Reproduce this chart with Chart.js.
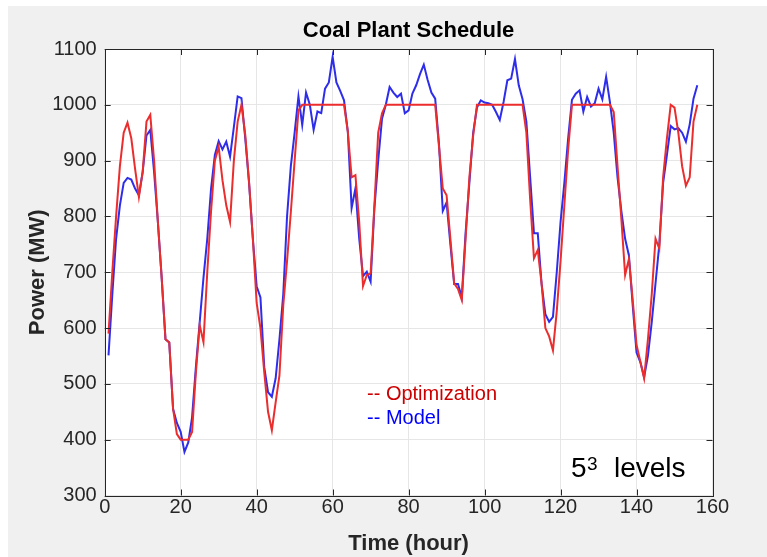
<!DOCTYPE html>
<html lang="en">
<head>
  <meta charset="UTF-8" />
  <title>Coal Plant Schedule</title>
  <script src="https://cdn.jsdelivr.net/npm/chart.js"></script>
  <style>
    body {
      margin: 0;
      background: #ffffff;
    }
    canvas {
      display: block;
    }
  </style>
</head>
<body>
  <canvas id="scheduleChart" width="767" height="557"></canvas>

  <script>
    // hourly series (hour 1 .. 156)
    const optimization = [
      590, 700, 800, 890, 950, 968, 940, 885, 835, 880,
      970, 982, 900, 790, 690, 580, 574, 455, 410, 400,
      400, 400, 414, 520, 605, 575, 700, 810, 900, 925,
      865, 820, 790, 900, 970, 1000, 946, 862, 760, 645,
      600, 521, 450, 417, 467, 515, 640, 720, 808, 900,
      990, 1000, 1000, 1000, 1000, 1000, 1000, 1000, 1000, 1000,
      1000, 1000, 1000, 952, 870, 874, 790, 675, 695, 698,
      820, 950, 985, 1000, 1000, 1000, 1000, 1000, 1000, 1000,
      1000, 1000, 1000, 1000, 1000, 1000, 1000, 925, 850, 838,
      760, 680, 670, 650, 760, 870, 945, 1000, 1000, 1000,
      1000, 1000, 1000, 1000, 1000, 1000, 1000, 1000, 1000, 1000,
      950, 830, 725, 740, 680, 600, 585, 560, 630, 720,
      820, 920, 1000, 1000, 1000, 1000, 1000, 1000, 1000, 1000,
      1000, 1000, 1000, 987, 890, 796, 695, 724, 650, 570,
      540, 510, 580, 660, 760, 742, 870, 940, 1000, 995,
      950, 890, 855, 870, 970, 1000
    ];

    const model = [
      551, 660, 760, 820, 860, 869, 866, 850, 838, 880,
      945, 955, 880, 790, 690, 580, 574, 455, 430, 414,
      378, 395, 440, 530, 610, 690, 760, 850, 910, 935,
      920, 934, 907, 960, 1015, 1012, 940, 860, 760, 675,
      655, 530, 485, 477, 510, 580, 660, 800, 890, 950,
      1015, 964, 1022, 1000, 955, 988, 985, 1029, 1040, 1086,
      1040, 1025, 1008, 952, 815, 850, 760, 693, 701, 683,
      815, 900, 975, 1000, 1032, 1022, 1014, 1020, 985, 990,
      1020, 1035, 1055, 1072, 1045, 1022, 1011, 930, 810, 825,
      750, 679, 679, 655, 770, 860, 950, 995, 1008, 1004,
      1003, 1000, 987, 973, 1005, 1044, 1047, 1082, 1035, 1010,
      970, 870, 770, 770, 680, 625, 611, 620, 700, 790,
      860, 940, 1009, 1020, 1026, 988, 1014, 997, 1003, 1029,
      1010, 1050, 1005, 950, 870, 810, 760, 730, 640, 556,
      539, 512, 550, 610, 680, 750, 860, 910, 962, 956,
      958, 950, 934, 965, 1011, 1035
    ];

    const xTicks = [0, 20, 40, 60, 80, 100, 120, 140, 160];
    const yTicks = [300, 400, 500, 600, 700, 800, 900, 1000, 1100];

    const FONT = "'Liberation Sans', Arial, Helvetica, sans-serif";
    const AXIS_COLOR = '#262626';

    // sample i sits at hour i+1
    const toPoints = arr => arr.map((v, i) => ({ x: i + 1, y: v }));

    // figure background, axes box with inward ticks, text annotations
    const matlabLook = {
      id: 'matlabLook',
      beforeDraw(chart) {
        const { ctx, chartArea: a } = chart;
        ctx.save();
        ctx.fillStyle = '#ffffff';
        ctx.fillRect(0, 0, chart.width, chart.height);
        ctx.fillStyle = '#f0f0f0';
        ctx.fillRect(8, 6, chart.width - 8, chart.height - 6);
        ctx.fillStyle = '#ffffff';
        ctx.fillRect(a.left, a.top, a.right - a.left, a.bottom - a.top);
        ctx.restore();
      },
      afterDraw(chart) {
        const { ctx, chartArea: a, scales } = chart;
        const len = 6;
        ctx.save();
        ctx.strokeStyle = AXIS_COLOR;
        ctx.lineWidth = 1;
        ctx.beginPath();
        xTicks.forEach(t => {
          const px = Math.round(scales.x.getPixelForValue(t)) + 0.5;
          ctx.moveTo(px, a.bottom); ctx.lineTo(px, a.bottom - len);
          ctx.moveTo(px, a.top); ctx.lineTo(px, a.top + len);
        });
        yTicks.forEach(t => {
          const py = Math.round(scales.y.getPixelForValue(t)) + 0.5;
          ctx.moveTo(a.left, py); ctx.lineTo(a.left + len, py);
          ctx.moveTo(a.right, py); ctx.lineTo(a.right - len, py);
        });
        ctx.stroke();
        ctx.strokeRect(Math.round(a.left) + 0.5, Math.round(a.top) + 0.5,
          Math.round(a.right - a.left), Math.round(a.bottom - a.top));

        ctx.textBaseline = 'alphabetic';
        ctx.textAlign = 'left';
        ctx.font = '20px ' + FONT;
        ctx.fillStyle = '#cc0000';
        ctx.fillText('-- Optimization', 367, 400);
        ctx.fillStyle = '#0000ff';
        ctx.fillText('-- Model', 367, 424);

        ctx.fillStyle = '#000000';
        ctx.font = '28px ' + FONT;
        ctx.fillText('5', 571, 477);
        ctx.font = '19px ' + FONT;
        ctx.fillText('3', 587, 470);
        ctx.font = '28px ' + FONT;
        ctx.fillText('levels', 614, 477);
        ctx.restore();
      }
    };

    new Chart(document.getElementById('scheduleChart'), {
      type: 'line',
      data: {
        datasets: [
          {
            label: 'Optimization',
            data: toPoints(optimization),
            borderColor: 'rgb(235, 45, 45)',
            borderWidth: 2,
            pointRadius: 0,
            tension: 0
          },
          {
            label: 'Model',
            data: toPoints(model),
            borderColor: 'rgb(45, 45, 235)',
            borderWidth: 2,
            pointRadius: 0,
            tension: 0
          }
        ]
      },
      options: {
        responsive: false,
        animation: false,
        layout: {
          padding: { left: 0, right: 54.5, top: 0, bottom: 0 }
        },
        plugins: {
          legend: { display: false },
          tooltip: { enabled: false },
          title: {
            display: true,
            fullSize: false,
            text: 'Coal Plant Schedule',
            color: '#000000',
            font: { family: FONT, size: 22, weight: 'bold' },
            padding: { top: 18, bottom: 4.6 }
          }
        },
        scales: {
          x: {
            type: 'linear',
            min: 0,
            max: 160,
            afterFit(scale) { scale.height = 61.5; },
            afterBuildTicks(scale) { scale.ticks = xTicks.map(v => ({ value: v })); },
            grid: { color: '#e6e6e6', drawTicks: false },
            border: { display: false },
            ticks: {
              color: AXIS_COLOR,
              padding: 0,
              maxRotation: 0,
              font: { family: FONT, size: 20 },
              callback: v => String(v)
            },
            title: {
              display: true,
              text: 'Time (hour)',
              color: AXIS_COLOR,
              padding: { top: 0, bottom: 0 },
              font: { family: FONT, size: 22, weight: 'bold' }
            }
          },
          y: {
            min: 300,
            max: 1100,
            afterFit(scale) { scale.width = 104.7; },
            afterBuildTicks(scale) { scale.ticks = yTicks.map(v => ({ value: v })); },
            grid: { color: '#e6e6e6', drawTicks: false },
            border: { display: false },
            ticks: {
              color: AXIS_COLOR,
              padding: 8,
              font: { family: FONT, size: 20 },
              callback: v => String(v)
            },
            title: {
              display: true,
              text: 'Power (MW)',
              color: AXIS_COLOR,
              padding: { top: 25, bottom: 0 },
              font: { family: FONT, size: 22, weight: 'bold' }
            }
          }
        }
      },
      plugins: [matlabLook]
    });
  </script>
</body>
</html>
